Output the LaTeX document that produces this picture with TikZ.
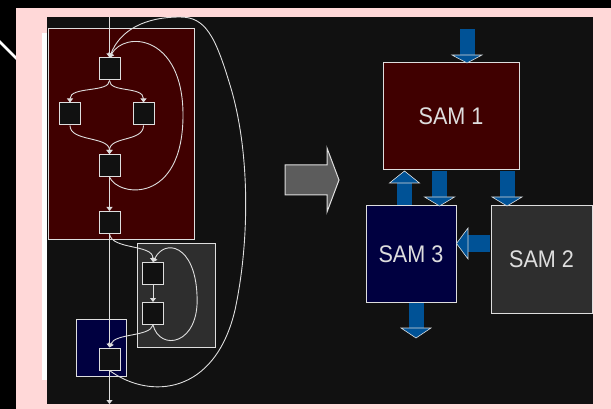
\documentclass[tikz,border=0pt]{standalone}
\usepackage{fontspec}
\setmainfont{Liberation Sans}
\usetikzlibrary{arrows.meta}
\definecolor{pinkbg}{RGB}{255,216,216}
\definecolor{panel}{RGB}{17,17,17}
\definecolor{maroonfill}{RGB}{64,0,0}
\definecolor{navyfill}{RGB}{0,0,64}
\definecolor{grayfill}{RGB}{46,46,46}
\definecolor{edge}{RGB}{222,222,222}
\definecolor{flow}{RGB}{0,82,150}
\definecolor{bigarrow}{RGB}{92,92,92}
\newcommand\vflow[4]{%
  \fill[flow] ({#1-7.5},#2) rectangle ({#1+7.5},#3);
  \filldraw[fill=flow, draw=edge, line width=0.6pt] ({#1-15},#3) -- ({#1+15},#3) -- (#1,#4) -- cycle;}
\tikzset{
  region/.style={draw=edge, line width=1pt, inner sep=0pt},
  sq/.style={draw=edge, fill=panel, line width=1pt, minimum width=21pt, minimum height=22pt, inner sep=0pt},
  wire/.style={draw=edge, line width=0.9pt},
  flowtip/.style={-{Triangle[width=6pt,length=4pt]}},
  samtext/.style={text=edge, font=\fontsize{24}{28}\selectfont}
}
\begin{document}
\begin{tikzpicture}[x=1pt,y=-1pt]
\useasboundingbox (0,0) rectangle (611,409);
\fill[black] (0,0) rectangle (611,409);
\draw[white, line width=2.5pt] (-2,40) -- (18,60);
\fill[pinkbg] (16,8) rectangle (611,409);
\fill[white] (42,33) rectangle (47,380);
\fill[panel] (47,17) rectangle (593,404);

% left regions
\node[region, fill=maroonfill, minimum width=146pt, minimum height=210pt] (r1) at (121,134) {};
\node[region, fill=grayfill, minimum width=78pt, minimum height=104pt] (r2) at (176,295) {};
\node[region, fill=navyfill, minimum width=50pt, minimum height=57pt] (r3) at (101,347.5) {};

% small nodes
\node[sq] (n1) at (109.5,69) {};
\node[sq] (n2) at (70,114) {};
\node[sq] (n3) at (143.5,114) {};
\node[sq] (n4) at (109.5,165.5) {};
\node[sq] (n5) at (109.5,222.5) {};
\node[sq] (n6) at (153,273.5) {};
\node[sq] (n7) at (153,313.5) {};
\node[sq] (n8) at (109.5,359) {};
\coordinate (top) at (109.5,17);
\coordinate (bot) at (109.5,404);

% wires
\draw[wire, flowtip] (top) -- (n1.north);
\draw[wire, flowtip] (n1.south) .. controls (109.5,93) and (70,86) .. (n2.north);
\draw[wire, flowtip] (n1.south) .. controls (109.5,93) and (143.5,86) .. (n3.north);
\draw[wire, flowtip] (n2.south) .. controls (70,142) and (109.5,136) .. (n4.north);
\draw[wire, flowtip] (n3.south) .. controls (143.5,142) and (109.5,136) .. (n4.north);
\draw[wire, flowtip] (n4.south) .. controls (118,197) and (183,205) .. (183,115) .. controls (183,35) and (125,30) .. (n1.north);
\draw[wire, flowtip] (n4.south) -- (n5.north);
\draw[wire, flowtip] (n5.south) -- (n8.north);
\draw[wire, flowtip] (n8.south) -- (bot);
\draw[wire, flowtip] (n8.south) .. controls (150,400) and (215,395) .. (235,310) .. controls (250,240) and (250,150) .. (230,85) .. controls (215,35) and (205,17) .. (180,17) .. controls (145,17) and (120,30) .. (n1.north);
\draw[wire, flowtip] (n5.south) .. controls (112,250) and (153,244) .. (n6.north);
\draw[wire, flowtip] (n6.south) -- (n7.north);
\draw[wire, flowtip] (n7.south) .. controls (160,352) and (200,345) .. (197,295) .. controls (195,245) and (165,238) .. (n6.north);
\draw[wire, flowtip] (n7.south) .. controls (150,337) and (115,333) .. (n8.north);

% big gray arrow
\filldraw[fill=bigarrow, draw=edge, line width=1pt] (285,165) -- (327,165) -- (327,148) -- (339,180) -- (327,212) -- (327,195) -- (285,195) -- cycle;

% right boxes
\node[region, fill=maroonfill, minimum width=136pt, minimum height=107pt, samtext] (s1) at (451,116.5) {\scalebox{0.9}[1]{SAM 1}};
\node[region, fill=navyfill, minimum width=90pt, minimum height=96pt, samtext] (s3) at (411,254) {\scalebox{0.9}[1]{SAM 3}};
\node[region, fill=grayfill, minimum width=101pt, minimum height=107pt, samtext] (s2) at (541.5,259.5) {\scalebox{0.9}[1]{SAM 2}};

% block flow arrows
\vflow{467}{29}{55}{63}
\vflow{404.5}{205}{183}{171}
\vflow{439.5}{171}{197}{206}
\vflow{507}{171}{197}{206}
\vflow{416}{303}{328}{338}
\fill[flow] (490,235) rectangle (468,252);
\filldraw[fill=flow, draw=edge, line width=0.6pt] (468,228) -- (468,259) -- (456.5,243.5) -- cycle;
\end{tikzpicture}
\end{document}
